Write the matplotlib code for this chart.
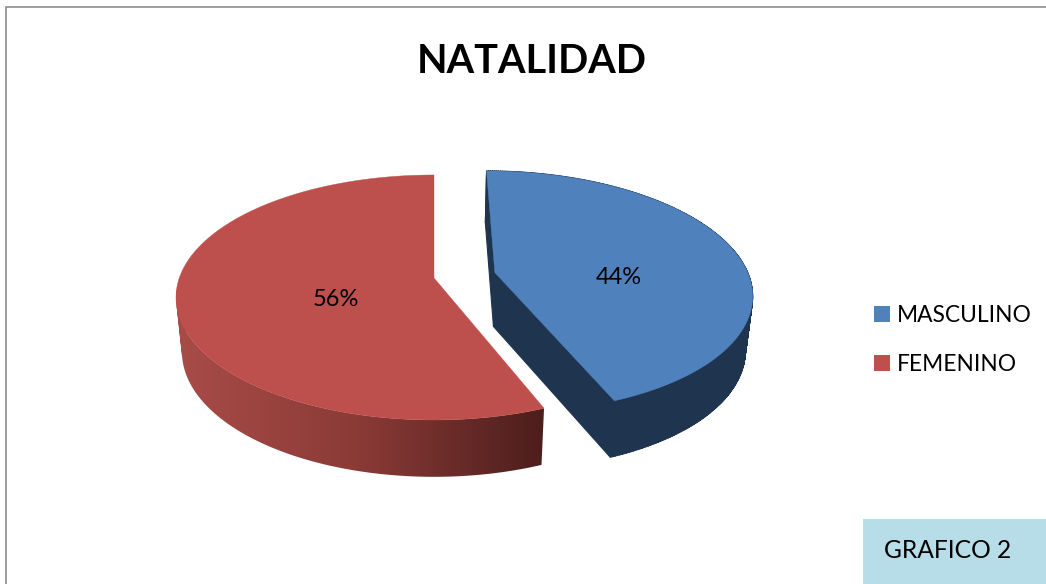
import numpy as np
import matplotlib
matplotlib.use("Agg")
import matplotlib.pyplot as plt
from matplotlib.colors import LinearSegmentedColormap
from matplotlib.lines import Line2D
from matplotlib.patches import PathPatch
from matplotlib.path import Path

title = "NATALIDAD"
categories = ["MASCULINO", "FEMENINO"]
values = [44, 56]
explode = [0.245, 0.0]
top_colors = ["#4f81bd", "#bd4f4c"]
note = "GRAFICO 2"

plt.rcParams["font.family"] = ["Lato", "DejaVu Sans"]
fig = plt.figure(figsize=(10.46, 5.84), dpi=100, facecolor="white")
ax = fig.add_axes([0, 0, 1, 1])
ax.set_xlim(0, 1046)
ax.set_ylim(584, 0)
ax.axis("off")

# projection of the tilted disc onto the page
CX, CY, RX, RY, K = 434.0, 278.0, 254.7, 119.4, 0.159
SX, SY, DY = 0.977, 1.02, 54.0


def project(u, v, bottom=False):
    d = 1 + K * v
    x, y = RX * u / d, -RY * v / d
    if bottom:
        x, y = x * SX, y * SY + DY
    return CX + x, CY + y


def rim(a0, a1, du, dv, bottom=False, n=300):
    t = np.radians(np.linspace(a0, a1, n))
    return project(np.sin(t) + du, np.cos(t) + dv, bottom)


def quad_path(tx, ty, bx, by):
    """Union of the quads between two rims, all wound the same way."""
    verts, codes = [], []
    for j in range(len(tx) - 1):
        q = [(tx[j], ty[j]), (tx[j + 1], ty[j + 1]), (bx[j + 1], by[j + 1]), (bx[j], by[j])]
        xs, ys = np.array(q).T
        area = np.dot(xs, np.roll(ys, -1)) - np.dot(ys, np.roll(xs, -1))
        if area < 0:
            q = q[::-1]
        verts += q + [q[0]]
        codes += [Path.MOVETO, Path.LINETO, Path.LINETO, Path.LINETO, Path.CLOSEPOLY]
    return Path(verts, codes)


# clockwise from 12 o'clock
fracs = np.array(values, dtype=float) / sum(values)
edges = np.concatenate([[0], np.cumsum(fracs)]) * 360

WALL_BLUE = "#1f344f"
red_wall = LinearSegmentedColormap.from_list("wall", ["#a94c48", "#8a3a36", "#4c1e1c"])
label_xy = [(619, 277), (336, 300)]

for i in [1, 0]:
    a0, a1 = edges[i], edges[i + 1]
    mid = np.radians((a0 + a1) / 2)
    du, dv = explode[i] * np.sin(mid), explode[i] * np.cos(mid)

    tx, ty = rim(a0, a1, du, dv)
    bx, by = rim(a0, a1, du, dv, bottom=True)
    ox, oy = project(du, dv)
    box, boy = project(du, dv, bottom=True)

    if i == 0:
        wall = PathPatch(quad_path(tx, ty, bx, by), lw=0.8, edgecolor=WALL_BLUE,
                         facecolor=WALL_BLUE, zorder=2)
    else:
        wall = PathPatch(quad_path(tx, ty, bx, by), lw=0, edgecolor="none",
                         facecolor="none", zorder=2)
    ax.add_patch(wall)
    if i == 0:
        for k in (0, -1):
            ax.fill([ox, tx[k], bx[k], box], [oy, ty[k], by[k], boy],
                    color=WALL_BLUE, lw=0.8, zorder=2)
    else:
        grad = np.linspace(0, 1, 256).reshape(1, -1)
        im = ax.imshow(grad, cmap=red_wall, extent=(176, 545, 500, 290),
                       aspect="auto", zorder=2, interpolation="bilinear")
        im.set_clip_path(wall)

    ax.fill(np.r_[ox, tx], np.r_[oy, ty], color=top_colors[i], lw=0.3, zorder=3)
    ax.text(*label_xy[i], f"{values[i]}%", ha="center", va="center",
            fontsize=17, color="black", zorder=4)

ax.set_xlim(0, 1046)
ax.set_ylim(584, 0)

ax.text(531.5, 61.5, title, ha="center", va="center", fontsize=28.5,
        fontweight="bold", color="black")

# chart frame (left and top only are in view)
ax.plot([5.5, 5.5, 1046], [584, 6.5, 6.5], color="#8c8c8c", lw=1.2,
        solid_joinstyle="miter", zorder=1)

# legend
handles = [Line2D([], [], ls="none", marker="s", ms=11, mew=0, color=c)
           for c in top_colors]
ax.legend(handles, categories, loc="center left",
          bbox_to_anchor=(874.5 / 1046, 1 - 340 / 584),
          frameon=False, fontsize=16.4, labelspacing=1.25, handlelength=0.7,
          handletextpad=0.285, borderpad=0, borderaxespad=0, labelcolor="black")

# note box
ax.add_patch(plt.Rectangle((863, 519), 183, 65, facecolor="#b7dde8", edgecolor="none", zorder=2))
ax.text(884, 550, note, ha="left", va="center", fontsize=17.7, color="black", zorder=3)

fig.savefig("out.png", dpi=100, facecolor="white")
